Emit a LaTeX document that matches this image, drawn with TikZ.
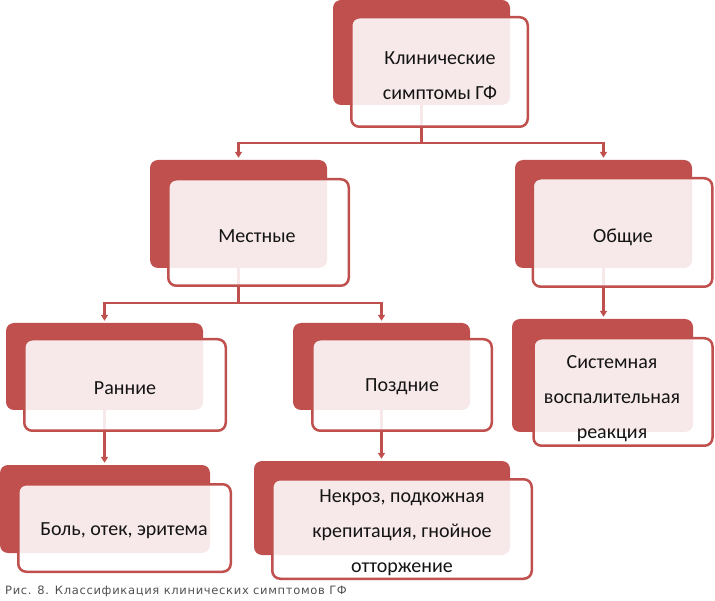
\documentclass[tikz,border=0pt]{standalone}
\usepackage{fontspec}
\setmainfont{Carlito}
\newfontfamily\capfont[LetterSpace=6]{DejaVu Sans}
\usetikzlibrary{arrows.meta,calc}
\definecolor{dred}{RGB}{192,80,77}
\definecolor{txt}{RGB}{20,20,20}
\definecolor{capgray}{RGB}{80,80,80}
\tikzset{
  backbox/.style={fill=dred, rounded corners=8pt, inner sep=0pt},
  frontbox/.style={draw=dred, line width=2.5pt, fill=white, fill opacity=0.88, draw opacity=1, rounded corners=8pt, inner sep=0pt},
  lbl/.style={text=txt, font=\fontsize{20pt}{35pt}\selectfont, align=center, inner sep=0pt},
  arr/.style={draw=dred, line width=2.2pt, -{Triangle[width=7pt,length=6pt]}, shorten >=2pt},
}
\begin{document}
\begin{tikzpicture}[x=1pt,y=-1pt]
\useasboundingbox (0,0) rectangle (715,601);
% back boxes
\node[backbox, minimum width=177pt, minimum height=105pt] (b1) at (421.5,52.5) {};
\node[backbox, minimum width=177pt, minimum height=108pt] (b2) at (238.5,214) {};
\node[backbox, minimum width=177pt, minimum height=108pt] (b3) at (603.5,214) {};
\node[backbox, minimum width=197pt, minimum height=87pt] (b4) at (104.5,366.5) {};
\node[backbox, minimum width=177pt, minimum height=87pt] (b5) at (381.5,366.5) {};
\node[backbox, minimum width=181pt, minimum height=113pt] (b6) at (602.5,375.5) {};
\node[backbox, minimum width=210pt, minimum height=88pt] (b7) at (105,509) {};
\node[backbox, minimum width=256pt, minimum height=94pt] (b8) at (382,508) {};
% connectors
\draw[arr] (b1.south) -- ++(0,38) -| (b2.north);
\draw[arr] (b1.south) -- ++(0,38) -| (b3.north);
\draw[arr] (b2.south) -- ++(0,35) -| (b4.north);
\draw[arr] (b2.south) -- ++(0,35) -| (b5.north);
\draw[arr] (b3.south) -- (b3.south |- b6.north);
\draw[arr] (b4.south) -- (b4.south |- b7.north);
\draw[arr] (b5.south) -- (b5.south |- b8.north);
% front boxes
\node[frontbox, minimum width=176.5pt, minimum height=109.5pt] (f1) at (439.5,72) {};
\node[frontbox, minimum width=180.5pt, minimum height=106.5pt] (f2) at (258.5,232.5) {};
\node[frontbox, minimum width=179.5pt, minimum height=108.5pt] (f3) at (622.5,232.5) {};
\node[frontbox, minimum width=201.5pt, minimum height=91.5pt] (f4) at (125,385) {};
\node[frontbox, minimum width=179.5pt, minimum height=91.5pt] (f5) at (402,385) {};
\node[frontbox, minimum width=179pt, minimum height=107.5pt] (f6) at (623,392) {};
\node[frontbox, minimum width=212.5pt, minimum height=87.5pt] (f7) at (124.5,528) {};
\node[frontbox, minimum width=259.5pt, minimum height=99.5pt] (f8) at (402,529) {};
% labels
\node[lbl] (t1) at (440,76) {Клинические\\симптомы ГФ};
\node[lbl] (t2) at (257,236) {Местные};
\node[lbl] (t3) at (623,237) {Общие};
\node[lbl] (t4) at (125,388) {Ранние};
\node[lbl] (t5) at (402,387) {Поздние};
\node[lbl] (t6) at (612,399) {Системная\\воспалительная\\реакция};
\node[lbl] (t7) at (124,531) {Боль, отек, эритема};
\node[lbl] (t8) at (402,533) {Некроз, подкожная\\крепитация, гнойное\\отторжение};
% caption
\node[anchor=west, inner sep=0pt, text=capgray, font=\capfont\fontsize{11.5pt}{12pt}\selectfont] (cap) at (5,591) {Рис. 8. Классификация клинических симптомов ГФ};
\end{tikzpicture}
\end{document}
